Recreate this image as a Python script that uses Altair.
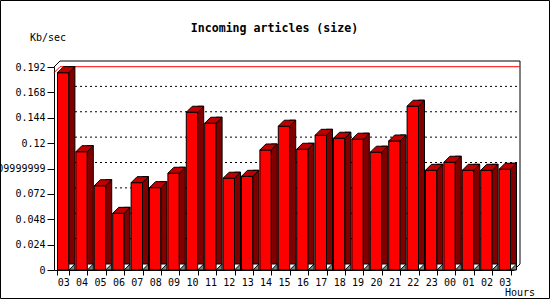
import json
import altair as alt
import pandas as pd

# ---- data ----
hours = ["03", "04", "05", "06", "07", "08", "09", "10", "11", "12", "13", "14",
         "15", "16", "17", "18", "19", "20", "21", "22", "23", "00", "01", "02", "03"]
values = [0.1866, 0.1119, 0.0797, 0.0536, 0.0826, 0.0779, 0.0915, 0.1492, 0.1388,
          0.0868, 0.0886, 0.1135, 0.1360, 0.1142, 0.1274, 0.1246, 0.1237, 0.1114,
          0.1220, 0.1549, 0.0943, 0.1019, 0.0943, 0.0943, 0.0953]
y_ticks = [0, 0.024, 0.048, 0.072, 0.096, 0.12, 0.144, 0.168, 0.192]
y_tick_labels = ["0", "0.024", "0.048", "0.072", "0.09999999", "0.12", "0.144", "0.168", "0.192"]
grid_levels = [0.024, 0.048, 0.072, 0.096, 0.12, 0.144, 0.168]
title_text = "Incoming articles (size)"
y_unit = "Kb/sec"
x_unit = "Hours"

# ---- layout / style ----
W, H = 460, 203
LEFT, TOP = 54, 67
D = 6  # 3D depth in px
PI = 0.38
n = len(values)
step = W / n
bw = step * (1 - PI)
FONT = "DejaVu Sans Mono"

df = pd.DataFrame({"idx": list(range(n)), "hour": hours, "value": values})
grid_df = pd.DataFrame({"value": grid_levels})

xscale = alt.Scale(domain=list(range(n)), paddingInner=PI, paddingOuter=PI / 2)
yscale = alt.Scale(domain=[0, 0.192], nice=False, zero=True)

x_label_expr = f"{json.dumps(hours)}[datum.value]"
y_label_expr = f"{json.dumps(y_tick_labels)}[indexof({json.dumps(y_ticks)}, datum.value)]"

x_axis = alt.Axis(
    labelExpr=x_label_expr, tickBand="extent", tickSize=5, labelPadding=2,
    labelAngle=0, labelFont=FONT, labelFontSize=10, labelColor="black",
    domainColor="black", tickColor="black", title=None, grid=False)
y_axis = alt.Axis(
    values=y_ticks, labelExpr=y_label_expr, tickSize=7, labelPadding=2,
    labelFont=FONT, labelFontSize=10, labelColor="black", domainColor="black",
    tickColor="black", title=None, grid=False, labelOverlap=False)

X = alt.X("idx:O", scale=xscale, axis=x_axis)
Y = alt.Y("value:Q", scale=yscale, axis=y_axis)

# back-plane dashed grid
grid = alt.Chart(grid_df).mark_rule(color="black", strokeDash=[2, 3], strokeWidth=1, yOffset=-D).encode(
    y=Y, x=alt.value(D), x2=alt.value(W + D),
)

# frame lines of the 3D box
frame_df = pd.DataFrame({"k": [0]})
top_border = alt.Chart(frame_df).mark_rule(color="black").encode(
    x=alt.value(D), x2=alt.value(W + D), y=alt.value(-D))
right_border = alt.Chart(frame_df).mark_rule(color="black").encode(
    x=alt.value(W + D), y=alt.value(-D), y2=alt.value(H - D))
br_diag = alt.Chart(frame_df).mark_rule(color="black").encode(
    x=alt.value(W + D), y=alt.value(H - D), x2=alt.value(W), y2=alt.value(H))
tl_diag = alt.Chart(frame_df).mark_rule(color="black").encode(
    x=alt.value(0), y=alt.value(0), x2=alt.value(D), y2=alt.value(-D))

# max line (red)
maxline = alt.Chart(df).transform_aggregate(value="max(value)").mark_rule(
    color="#ff0000", yOffset=-D).encode(y=Y, x=alt.value(D), x2=alt.value(W + D))
maxdiag = alt.Chart(df).transform_aggregate(value="max(value)").mark_rule(
    color="#ff0000", y2Offset=-D).encode(
    y=Y, y2="value:Q", x=alt.value(0), x2=alt.value(D))

# front faces
front = alt.Chart(df).mark_bar(color="#ff0000", stroke="black", strokeWidth=1).encode(x=X, y=Y)

# side faces
side = alt.Chart(df).mark_bar(color="#800000", stroke="black", strokeWidth=1,
                              width=D, xOffset=bw / 2 + D / 2, yOffset=-D).encode(x=X, y=Y)

# top faces (parallelogram symbol, size 4 -> 1 unit = 1 px)
top_path = f"M{-bw/2:.2f},0 L{bw/2:.2f},0 L{bw/2 + D:.2f},{-D} L{-bw/2 + D:.2f},{-D} Z"
top = alt.Chart(df).mark_point(shape=top_path, size=4, filled=True, fill="#c00000",
                               stroke="black", strokeWidth=1, opacity=1).encode(x=X, y=Y)

# floor shadow triangles
tri_path = f"M{bw/2:.2f},0 L{bw/2 + D:.2f},0 L{bw/2 + D:.2f},{-D} Z"
floor = alt.Chart(df).mark_point(shape=tri_path, size=4, filled=True, fill="#808080",
                                 stroke="black", strokeWidth=1, opacity=1).encode(
    x=X, y=alt.value(H))

# texts
title = alt.Chart(pd.DataFrame({"t": [title_text]})).mark_text(
    font=FONT, fontSize=11.6, fontWeight="bold", align="center", baseline="alphabetic",
    color="black").encode(text="t:N", x=alt.value(274.5 - LEFT), y=alt.value(31.5 - TOP))
yunit = alt.Chart(pd.DataFrame({"t": [y_unit]})).mark_text(
    font=FONT, fontSize=10, align="left", baseline="alphabetic", color="black").encode(
    text="t:N", x=alt.value(30 - LEFT), y=alt.value(40.5 - TOP))
xunit = alt.Chart(pd.DataFrame({"t": [x_unit]})).mark_text(
    font=FONT, fontSize=10, align="left", baseline="alphabetic", color="black").encode(
    text="t:N", x=alt.value(505 - LEFT), y=alt.value(296 - TOP))

# outer frame of the whole picture
outer = alt.Chart(frame_df).mark_rect(fillOpacity=0, stroke="black", strokeWidth=1).encode(
    x=alt.value(0.5 - LEFT), x2=alt.value(549.5 - LEFT),
    y=alt.value(0.5 - TOP), y2=alt.value(298.5 - TOP))

chart = alt.layer(
    grid, top_border, right_border, br_diag, tl_diag, maxline,
    front, side, top, floor, maxdiag, title, yunit, xunit, outer
).properties(
    width=W, height=H,
    padding={"left": LEFT, "top": TOP, "right": 550 - LEFT - W, "bottom": 300 - TOP - H},
    autosize=alt.AutoSizeParams(type="none"),
    background="white",
).configure_view(strokeWidth=0)

chart.save("out.html", embed_options={"renderer": "svg", "actions": False})
